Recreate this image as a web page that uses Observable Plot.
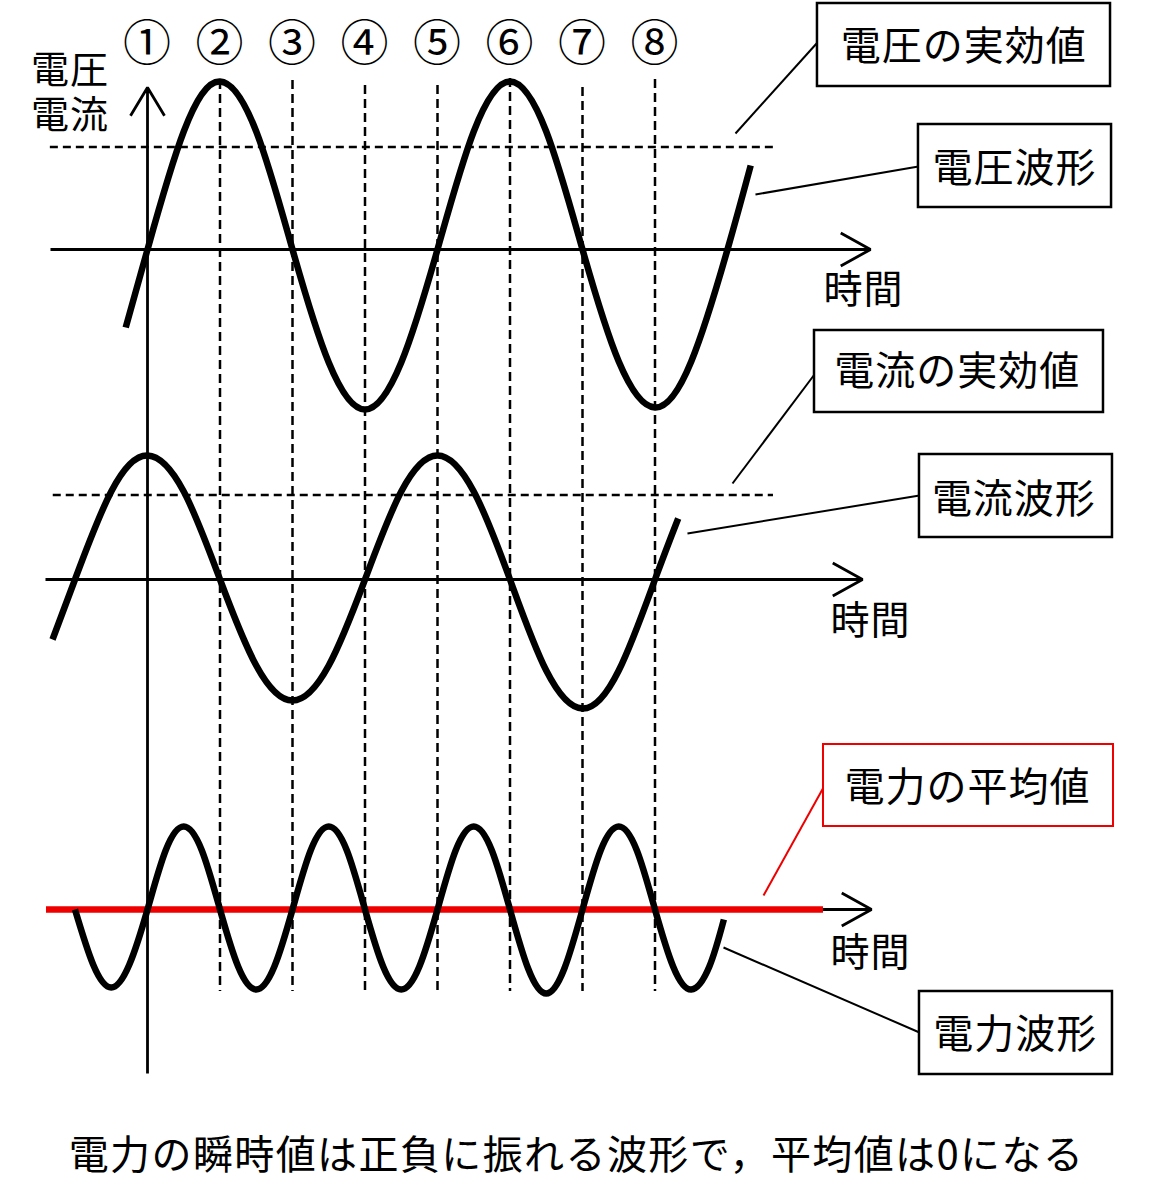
<!DOCTYPE html>
<html>
<head>
<meta charset="utf-8">
<script src="https://cdn.jsdelivr.net/npm/d3@7"></script>
<script src="https://cdn.jsdelivr.net/npm/@observablehq/plot@0.6"></script>
<style>
  html, body { margin: 0; padding: 0; background: #fff; }
  body { width: 1153px; font-family: "Noto Sans CJK JP", sans-serif; }
  #wrap { position: relative; width: 1153px; }
  #chart svg { display: block; }
  #axislabel { position: absolute; left: 31px; top: 44px; font-size: 38px; line-height: 45px; letter-spacing: 1px; color: #000; white-space: pre; }
  #caption { width: 1153px; font-size: 40px; line-height: 44px; text-align: center; padding-top: 20px; letter-spacing: 1.4px; color: #000; }
</style>
</head>
<body>
<div id="wrap">
  <div id="chart"></div>
  <div id="axislabel"></div>
</div>
<div id="caption"></div>
<script>
// ---------- data (time in quarter periods of the voltage, values in plot units) ----------
const voltageT = [-0.3, 0, 0.5, 1, 1.5, 2, 2.5, 3, 3.5, 4, 4.5, 5, 5.5, 6, 6.5, 7, 7.5, 8, 8.32];
const voltageV = [-78, 0, 118, 168, 118, 0, -113, -160, -113, 0, 118, 168, 118, 0, -112, -158, -112, 0, 84];

const currentT = [-1.31, -1, -0.5, 0, 0.5, 1, 1.5, 2, 2.5, 3, 3.5, 4, 4.5, 5, 5.5, 6, 6.5, 7, 7.32];
const currentI = [-60, 0, 88, 124, 88, 0, -86, -121, -86, 0, 88, 124, 88, 0, -91, -129, -91, 0, 61];

const powerT = [-1, -0.75, -0.5, -0.25, 0, 0.25, 0.5, 0.75, 1, 1.25, 1.5, 1.75, 2, 2.25, 2.5, 2.75,
                3, 3.25, 3.5, 3.75, 4, 4.25, 4.5, 4.75, 5, 5.25, 5.5, 5.75, 6, 6.25, 6.5, 6.75,
                7, 7.25, 7.5, 7.75, 7.95];
const powerP = [0, -55, -78, -55, 0, 59, 83, 59, 0, -57, -80, -57, 0, 59, 83, 59,
                0, -57, -80, -57, 0, 59, 83, 59, 0, -59, -84, -59, 0, 59, 83, 59,
                0, -57, -80, -57, -10];

const voltageRms = 102.5;
const currentRms = 84.5;
const powerAverage = 0;

const markerT = [0, 1, 2, 3, 4, 5, 6, 7];
const markerLabels = ["①", "②", "③", "④", "⑤", "⑥", "⑦", "⑧"];
const guideT = [1, 2, 3, 4, 5, 6, 7];

const axisLabel = "電圧\n電流";
const timeLabel = "時間";
const boxLabels = ["電圧の実効値", "電圧波形", "電流の実効値", "電流波形", "電力の平均値", "電力波形"];
const captionText = "電力の瞬時値は正負に振れる波形で，平均値は0になる";

// ---------- layout (panel baselines, extents, annotation placement) ----------
const base = { voltage: 0, current: -330, power: -660 };
const guideTop = [169, 169, 164, 164, 171, 162, 170];
const guideBottom = -742;
const rmsLines = [
  { y: base.voltage + voltageRms, x1: -1.34, x2: 8.634 },
  { y: base.current + currentRms, x1: -1.30, x2: 8.634 }
];
const timeAxes = [
  { x1: -1.338, x2: 9.972, y: base.voltage },
  { x1: -1.407, x2: 9.862, y: base.current },
  { x1: -1.393, x2: 9.986, y: base.power }
];
const avgLine = { x1: -1.393, x2: 9.324, y: base.power + powerAverage };
const vAxis = { x: 0, y1: -824, y2: 162 };

const boxes = [
  { x1: 9.241, x2: 13.283, y1: 163, y2: 246, tx: 11.26, ty: 202, color: "black" },
  { x1: 10.634, x2: 13.297, y1: 42, y2: 125, tx: 11.96, ty: 80.5, color: "black" },
  { x1: 9.200, x2: 13.186, y1: -163, y2: -81, tx: 11.17, ty: -123, color: "black" },
  { x1: 10.648, x2: 13.310, y1: -288, y2: -205, tx: 11.95, ty: -250.5, color: "black" },
  { x1: 9.324, x2: 13.324, y1: -577, y2: -495, tx: 11.31, ty: -538.5, color: "red" },
  { x1: 10.648, x2: 13.310, y1: -825, y2: -742, tx: 11.97, ty: -785.5, color: "black" }
];
boxes.forEach((b, i) => b.label = boxLabels[i]);

const leaders = [
  { x1: 8.110, y1: 116, x2: 9.241, y2: 207, color: "black" },
  { x1: 8.386, y1: 55, x2: 10.634, y2: 83, color: "black" },
  { x1: 8.069, y1: -234, x2: 9.241, y2: -121, color: "black" },
  { x1: 7.448, y1: -284, x2: 10.648, y2: -246, color: "black" },
  { x1: 8.497, y1: -646, x2: 9.324, y2: -538, color: "red" },
  { x1: 7.945, y1: -698, x2: 10.648, y2: -783, color: "black" }
];
const timeLabelPos = [
  { x: 9.324, y: -41.5 },
  { x: 9.421, y: -372 },
  { x: 9.421, y: -704 }
];
const markerY = 205;

// ---------- build rows ----------
const voltage = voltageT.map((t, i) => ({ t, v: base.voltage + voltageV[i] }));
const current = currentT.map((t, i) => ({ t, v: base.current + currentI[i] }));
const power = powerT.map((t, i) => ({ t, v: base.power + powerP[i] }));
const markers = markerT.map((t, i) => ({ t, label: markerLabels[i] }));

const font = '"Noto Sans CJK JP", sans-serif';
const red = "#ee0000";
const axisStroke = 2.8;

const chart = Plot.plot({
  width: 1153,
  height: 1110,
  margin: 0,
  x: { domain: [-147 / 72.5, 1006 / 72.5], axis: null },
  y: { domain: [-861, 249], axis: null },
  style: { fontFamily: font, background: "white", overflow: "visible", letterSpacing: "1px" },
  marks: [
    // vertical dashed guides
    Plot.ruleX(guideT, { x: d => d, y1: (d, i) => guideTop[i], y2: guideBottom,
      stroke: "black", strokeWidth: 2.5, strokeDasharray: "9,5" }),
    // rms dashed lines
    Plot.ruleY(rmsLines, { y: "y", x1: "x1", x2: "x2", stroke: "black", strokeWidth: 2.5, strokeDasharray: "8,5" }),
    // time axes (head length is relative to stroke width in Plot)
    Plot.arrow(timeAxes, { x1: "x1", x2: "x2", y1: "y", y2: "y", stroke: "black", strokeWidth: axisStroke,
      headAngle: 58, headLength: 34 * 1.5 / axisStroke, strokeLinecap: "butt", strokeLinejoin: "miter" }),
    // vertical axis
    Plot.arrow([vAxis], { x1: "x", x2: "x", y1: "y1", y2: "y2", stroke: "black", strokeWidth: axisStroke,
      headAngle: 62, headLength: 33 * 1.5 / axisStroke, strokeLinecap: "butt", strokeLinejoin: "miter" }),
    // power average (red)
    Plot.ruleY([avgLine], { y: "y", x1: "x1", x2: "x2", stroke: red, strokeWidth: 6.5 }),
    // waveforms
    Plot.line(voltage, { x: "t", y: "v", curve: "natural", stroke: "black", strokeWidth: 6.5, strokeLinecap: "butt" }),
    Plot.line(current, { x: "t", y: "v", curve: "natural", stroke: "black", strokeWidth: 6.5, strokeLinecap: "butt" }),
    Plot.line(power, { x: "t", y: "v", curve: "natural", stroke: "black", strokeWidth: 6.5, strokeLinecap: "butt" }),
    // leaders
    Plot.link(leaders.filter(d => d.color === "black"), { x1: "x1", y1: "y1", x2: "x2", y2: "y2", stroke: "black", strokeWidth: 2 }),
    Plot.link(leaders.filter(d => d.color === "red"), { x1: "x1", y1: "y1", x2: "x2", y2: "y2", stroke: red, strokeWidth: 2 }),
    // boxes
    Plot.rect(boxes.filter(d => d.color === "black"), { x1: "x1", x2: "x2", y1: "y1", y2: "y2", fill: "white", stroke: "black", strokeWidth: 2.5 }),
    Plot.rect(boxes.filter(d => d.color === "red"), { x1: "x1", x2: "x2", y1: "y1", y2: "y2", fill: "white", stroke: red, strokeWidth: 2 }),
    Plot.text(boxes, { x: "tx", y: "ty", text: "label", fontSize: 40, fontFamily: font, fill: "black", lineAnchor: "middle", textAnchor: "middle" }),
    // circled markers
    Plot.text(markers, { x: "t", y: markerY, text: "label", fontSize: 48, fontFamily: font, fill: "black", lineAnchor: "middle", textAnchor: "middle" }),
    // time labels
    Plot.text(timeLabelPos, { x: "x", y: "y", text: () => timeLabel, fontSize: 39, fontFamily: font, fill: "black", lineAnchor: "middle", textAnchor: "start" })
  ]
});

document.getElementById("chart").appendChild(chart);
document.getElementById("axislabel").textContent = axisLabel;
document.getElementById("caption").textContent = captionText;
</script>
</body>
</html>
